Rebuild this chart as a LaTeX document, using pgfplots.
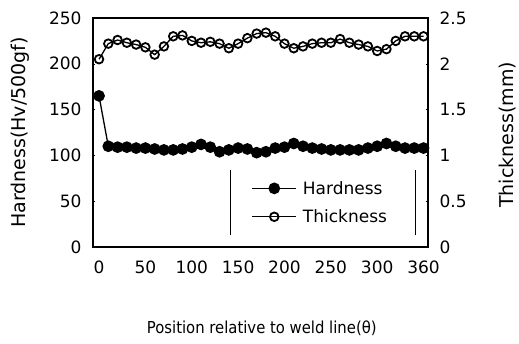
\documentclass[border=0pt]{standalone}
\usepackage{fontspec}
\setmainfont{DejaVu Sans}
\newfontfamily\condf{DejaVu Sans Condensed}
\usepackage{pgfplots}
\pgfplotsset{compat=1.18}
\newcommand\f{\fontsize{17pt}{20pt}\selectfont}
\newcommand\fl{\fontsize{19pt}{22pt}\selectfont}
\newcommand\fx{\condf\fontsize{16.5pt}{19pt}\selectfont}
\begin{document}
\begin{tikzpicture}
\path[use as bounding box] (-93pt,-96pt) rectangle (426pt,247pt);
\pgfplotsset{
  base/.style={
    scale only axis, width=335pt, height=229pt,
    xmin=-6.5, xmax=354.8,
    axis line style={line width=1.3pt},
    tick style={line width=0.6pt, black},
    /pgf/number format/assume math mode=true,
    tick label style={font=\f},
  }
}
\begin{axis}[base,
  ymin=0, ymax=250, ytick={0,50,...,250},
  xtick pos=bottom, ytick pos=left,
  xtick={0,50,...,350}, xticklabels={0,50,100,150,200,250,300,360},
  major x tick style={draw=none},
  extra x ticks={19,44,...,344}, extra x tick labels={},
  extra x tick style={major tick length=4pt, tick style={draw=black, line width=0.6pt}},
  major tick length=2.5pt,
  xticklabel style={yshift=-10pt},
  yticklabel style={xshift=-8pt},
  ylabel={Hardness(Hv/500gf)},
  ylabel style={font=\fl, at={(axis description cs:-0.218,0.5)}, anchor=center},
  xlabel={Position relative to weld line(θ)},
  xlabel style={font=\fx, at={(axis description cs:0.504,-0.354)}, anchor=center},
]
\addplot[black, line width=1.3pt, mark=*, mark size=5.2pt, mark options={fill=black}] coordinates {
(0,165)(10,110)(20,109)(30,109)(40,108)(50,108)(60,107)(70,106)(80,106)(90,107)
(100,109)(110,112)(120,109)(130,104)(140,106)(150,108)(160,107)(170,103)(180,104)(190,108)
(200,109)(210,113)(220,110)(230,108)(240,107)(250,106)(260,106)(270,106)(280,106)(290,108)
(300,110)(310,113)(320,110)(330,108)(340,108)(350,108)};
\end{axis}
\begin{axis}[base,
  ymin=0, ymax=2.5, ytick={0,0.5,...,2.5},
  yticklabels={0,0.5,1,1.5,2,2.5},
  axis y line*=right, axis x line=none,
  major tick length=2.5pt,
  yticklabel style={xshift=8pt},
  ylabel={Thickness(mm)},
  ylabel style={font=\fl, at={(axis description cs:1.236,0.49)}, anchor=center},
  legend style={draw=none, fill=none, font=\f, at={(rel axis cs:0.464,0.194)}, anchor=west, row sep=10pt, column sep=4pt},
  legend cell align=left,
  legend image code/.code={\draw[mark repeat=2,mark phase=2] plot coordinates {(0pt,0pt)(22pt,0pt)(44pt,0pt)};},
]
\addlegendimage{black, line width=1.3pt, mark=*, mark size=5.2pt, mark options={fill=black}}
\addlegendentry{Hardness}
\addplot[black, line width=1.3pt, mark=o, mark size=4.3pt, mark options={fill=white, line width=1.8pt}] coordinates {
(0,2.05)(10,2.22)(20,2.26)(30,2.23)(40,2.21)(50,2.18)(60,2.10)(70,2.19)(80,2.30)(90,2.31)
(100,2.25)(110,2.23)(120,2.24)(130,2.22)(140,2.17)(150,2.22)(160,2.28)(170,2.33)(180,2.34)(190,2.30)
(200,2.22)(210,2.17)(220,2.19)(230,2.22)(240,2.23)(250,2.23)(260,2.27)(270,2.23)(280,2.21)(290,2.19)
(300,2.14)(310,2.16)(320,2.25)(330,2.30)(340,2.30)(350,2.30)};
\addlegendentry{Thickness}
\draw[line width=0.9pt] (rel axis cs:0.409,0.052) -- (rel axis cs:0.409,0.336);
\draw[line width=0.9pt] (rel axis cs:0.964,0.052) -- (rel axis cs:0.964,0.336);
\end{axis}
\end{tikzpicture}
\end{document}
